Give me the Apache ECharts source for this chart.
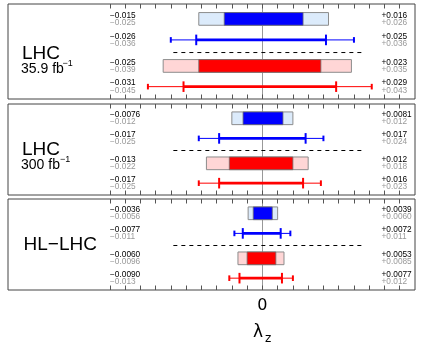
<!DOCTYPE html>
<html><head><meta charset="utf-8">
<script src="https://cdn.jsdelivr.net/npm/echarts@6/dist/echarts.min.js"></script>
<style>html,body{margin:0;padding:0;background:#fff}#c{width:424px;height:359px}</style>
</head><body><div id="c"></div>
<script>
// ---------------- data ----------------
const panelNames = ['LHC', 'LHC', 'HL\u2212LHC'];
const panelLumi = ['35.9 fb', '300 fb', ''];
// [lo, hi] per panel
const blueBoxInner = [[-0.015, 0.016], [-0.0076, 0.0081], [-0.0036, 0.0039]];
const blueBoxOuter = [[-0.025, 0.026], [-0.012, 0.012], [-0.0056, 0.0060]];
const blueBarInner = [[-0.026, 0.025], [-0.017, 0.017], [-0.0077, 0.0072]];
const blueBarOuter = [[-0.036, 0.036], [-0.025, 0.024], [-0.011, 0.011]];
const redBoxInner  = [[-0.025, 0.023], [-0.013, 0.012], [-0.0060, 0.0053]];
const redBoxOuter  = [[-0.039, 0.035], [-0.022, 0.018], [-0.0096, 0.0085]];
const redBarInner  = [[-0.031, 0.029], [-0.017, 0.016], [-0.0090, 0.0077]];
const redBarOuter  = [[-0.045, 0.043], [-0.025, 0.023], [-0.013, 0.012]];
const tickValues = [-0.06, -0.054, -0.048, -0.042, -0.036, -0.03, -0.024, -0.018, -0.012, -0.006,
                    0, 0.006, 0.012, 0.018, 0.024, 0.03, 0.036, 0.042, 0.048, 0.054];
const axisLabelValues = [0];
const sepRange = [-0.035, 0.040];

// ---------------- layout ----------------
const X_MIN = -0.1, X_MAX = 0.06;
const grids = [{top: 4, height: 95}, {top: 104, height: 91}, {top: 199, height: 91}];
const rowY = [15.7, 37.8, 65.2, 87.0];
const sepY = 51.1;
const BLUE = '#0000ff', BLUE_L = '#dcebfb', RED = '#ff0000', RED_L = '#ffd6d6';
const SANS = 'Liberation Sans';

function fmt(v) { return (v < 0 ? '\u2212' : '+') + Math.abs(v).toPrecision(2); }

function renderRow(params, api) {
  const kind = api.value(5);
  const yv = api.value(4);
  const oL = api.coord([api.value(0), yv]), oR = api.coord([api.value(1), yv]);
  const iL = api.coord([api.value(2), yv]), iR = api.coord([api.value(3), yv]);
  const cy = oL[1];
  const dark = kind < 2 ? BLUE : RED, light = kind < 2 ? BLUE_L : RED_L;
  const cs = params.coordSys;
  const ch = [];
  if (kind % 2 === 0) {
    const h = 12.7;
    ch.push({type: 'rect', shape: {x: oL[0], y: cy - h / 2, width: oR[0] - oL[0], height: h},
      style: {fill: light, stroke: '#8c8c8c', lineWidth: 1}});
    ch.push({type: 'rect', shape: {x: iL[0], y: cy - h / 2, width: iR[0] - iL[0], height: h},
      style: {fill: dark, stroke: '#707070', lineWidth: 0.8}});
  } else {
    ch.push({type: 'line', shape: {x1: oL[0], y1: cy, x2: oR[0], y2: cy}, style: {stroke: dark, lineWidth: 1}});
    ch.push({type: 'line', shape: {x1: iL[0], y1: cy, x2: iR[0], y2: cy}, style: {stroke: dark, lineWidth: 2.7}});
    [iL[0], iR[0]].forEach(function (x) {
      ch.push({type: 'rect', shape: {x: x - 1, y: cy - 5.3, width: 2, height: 10.6}, style: {fill: dark}});
    });
    [oL[0], oR[0]].forEach(function (x) {
      ch.push({type: 'rect', shape: {x: x - 1, y: cy - 2.8, width: 2, height: 5.6}, style: {fill: dark}});
    });
  }
  const lx = cs.x + 102, rx = cs.x + cs.width - 33.5;
  const fs = 8.3;
  ch.push({type: 'text', style: {text: fmt(api.value(2)), x: lx, y: cy - 3.6, fill: '#000', fontSize: fs, fontFamily: SANS, align: 'left', verticalAlign: 'middle'}});
  ch.push({type: 'text', style: {text: fmt(api.value(0)), x: lx, y: cy + 3.7, fill: '#999', fontSize: fs, fontFamily: SANS, align: 'left', verticalAlign: 'middle'}});
  ch.push({type: 'text', style: {text: fmt(api.value(3)), x: rx, y: cy - 3.6, fill: '#000', fontSize: fs, fontFamily: SANS, align: 'left', verticalAlign: 'middle'}});
  ch.push({type: 'text', style: {text: fmt(api.value(1)), x: rx, y: cy + 3.7, fill: '#999', fontSize: fs, fontFamily: SANS, align: 'left', verticalAlign: 'middle'}});
  return {type: 'group', children: ch};
}

const gridOpt = [], xAxes = [], yAxes = [], series = [];
grids.forEach(function (g, i) {
  gridOpt.push({left: 8, width: 407, top: g.top, height: g.height, show: true,
    borderColor: '#444', borderWidth: 1, backgroundColor: 'transparent'});
  ['bottom', 'top'].forEach(function (pos) {
    const isLabelAxis = (i === 2 && pos === 'bottom');
    xAxes.push({type: 'value', gridIndex: i, position: pos, min: X_MIN, max: X_MAX,
      axisLine: {show: false, onZero: false},
      axisTick: {show: true, inside: true, length: 4.5, customValues: tickValues, lineStyle: {color: '#555', width: 1}},
      axisLabel: {show: isLabelAxis, customValues: axisLabelValues, margin: 8, fontSize: 16, fontFamily: 'DejaVu Sans', color: '#000'},
      splitLine: {show: false}});
  });
  yAxes.push({type: 'value', gridIndex: i, min: 0, max: 100, inverse: true,
    axisLine: {show: true, onZero: true, onZeroAxisIndex: 2 * i, lineStyle: {color: '#999', width: 1}},
    axisTick: {show: false}, axisLabel: {show: false}, splitLine: {show: false}});
  const rows = [
    [blueBoxOuter[i], blueBoxInner[i]],
    [blueBarOuter[i], blueBarInner[i]],
    [redBoxOuter[i], redBoxInner[i]],
    [redBarOuter[i], redBarInner[i]]
  ];
  series.push({type: 'custom', xAxisIndex: 2 * i, yAxisIndex: i, clip: false,
    encode: {x: [0, 1, 2, 3], y: 4}, renderItem: renderRow,
    data: rows.map(function (r, k) { return [r[0][0], r[0][1], r[1][0], r[1][1], rowY[k], k]; })});
  series.push({type: 'line', xAxisIndex: 2 * i, yAxisIndex: i, symbol: 'none', silent: true,
    lineStyle: {color: '#000', width: 1, type: [4, 4]},
    data: [[sepRange[0], sepY], [sepRange[1], sepY]]});
});

const graphic = [
  {type: 'text', left: 22, top: 44, style: {text: panelNames[0], fontSize: 19, fontFamily: SANS, fill: '#000'}},
  {type: 'text', left: 21, top: 62.5, style: {text: panelLumi[0], fontSize: 14, fontFamily: SANS, fill: '#000'}},
  {type: 'text', left: 62.5, top: 59.5, style: {text: '\u22121', fontSize: 9, fontFamily: SANS, fill: '#000'}},
  {type: 'text', left: 22, top: 140, style: {text: panelNames[1], fontSize: 19, fontFamily: SANS, fill: '#000'}},
  {type: 'text', left: 21, top: 158, style: {text: panelLumi[1], fontSize: 14, fontFamily: SANS, fill: '#000'}},
  {type: 'text', left: 60, top: 155, style: {text: '\u22121', fontSize: 9, fontFamily: SANS, fill: '#000'}},
  {type: 'text', left: 23.5, top: 235.5, style: {text: panelNames[2], fontSize: 19, fontFamily: SANS, fill: '#000'}},
  {type: 'text', left: 253, top: 324, style: {text: '\u03bb', fontSize: 17, fontFamily: 'DejaVu Sans', fill: '#000'}},
  {type: 'text', left: 265, top: 333, style: {text: 'z', fontSize: 12, fontFamily: 'DejaVu Sans', fill: '#000'}}
];

const chart = echarts.init(document.getElementById('c'), null, {renderer: 'canvas'});
chart.setOption({animation: false, backgroundColor: '#fff', grid: gridOpt, xAxis: xAxes, yAxis: yAxes, series: series, graphic: graphic});
</script></body></html>
